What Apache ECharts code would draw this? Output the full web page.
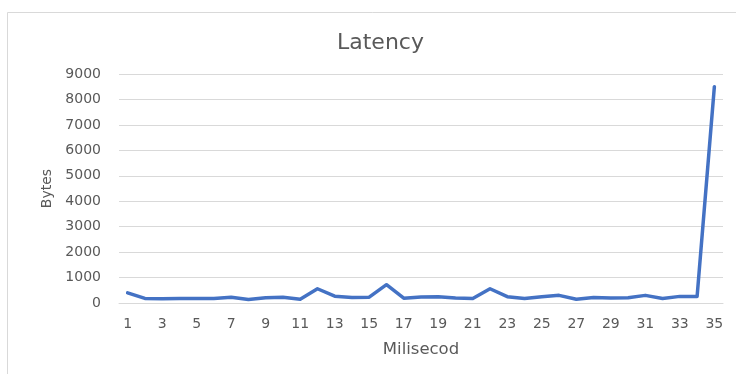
<!DOCTYPE html>
<html>
<head>
<meta charset="utf-8">
<script src="https://cdn.jsdelivr.net/npm/echarts@6/dist/echarts.min.js"></script>
<style>
  html, body { margin: 0; padding: 0; background: #fff; }
  #chart { width: 736px; height: 374px; }
</style>
</head>
<body>
<div id="chart"></div>
<script>
// Sample index (milliseconds) along the x axis
const categories = [
  '1','2','3','4','5','6','7','8','9','10',
  '11','12','13','14','15','16','17','18','19','20',
  '21','22','23','24','25','26','27','28','29','30',
  '31','32','33','34','35'
];
// Latency measured in bytes
const latency = [
  400, 180, 170, 180, 180, 180, 230, 140, 210, 230,
  150, 560, 270, 220, 230, 720, 190, 240, 250, 200,
  180, 560, 250, 180, 250, 300, 150, 220, 200, 210,
  300, 180, 260, 260, 8500
];
const yTicks = { min: 0, max: 9000, interval: 1000 };

const chart = echarts.init(document.getElementById('chart'));
const font = '"DejaVu Sans", "Open Sans", sans-serif';
chart.setOption({
  animation: false,
  backgroundColor: '#ffffff',
  graphic: [{
    type: 'rect',
    left: 5, top: 10,
    shape: { width: 760, height: 400 },
    style: { fill: 'none', stroke: '#d9d9d9', lineWidth: 1 }
  }],
  title: {
    text: 'Latency',
    left: 332,
    top: 27,
    textStyle: { fontFamily: font, fontSize: 22, fontWeight: 'normal', color: '#595959' }
  },
  grid: { left: 119, right: 13, top: 74, bottom: 71 },
  xAxis: {
    type: 'category',
    data: categories,
    boundaryGap: true,
    name: 'Milisecod',
    nameLocation: 'middle',
    nameGap: 38,
    nameTextStyle: { fontFamily: font, fontSize: 16.5, color: '#595959' },
    axisLine: { lineStyle: { color: '#d9d9d9', width: 1 } },
    axisTick: { show: false },
    axisLabel: { interval: 1, margin: 14, fontFamily: font, fontSize: 14, color: '#595959' }
  },
  yAxis: {
    type: 'value',
    min: yTicks.min, max: yTicks.max, interval: yTicks.interval,
    name: 'Bytes',
    nameLocation: 'middle',
    nameGap: 64,
    nameTextStyle: { fontFamily: font, fontSize: 14, color: '#595959' },
    axisLine: { show: false },
    axisTick: { show: false },
    splitLine: { lineStyle: { color: '#d9d9d9', width: 1 } },
    axisLabel: {
      margin: 18, fontFamily: font, fontSize: 14, color: '#595959',
      formatter: (v) => String(v)
    }
  },
  series: [{
    type: 'line',
    data: latency,
    symbol: 'none',
    lineStyle: { color: '#4472c4', width: 3.5, join: 'round', cap: 'round' }
  }]
});
</script>
</body>
</html>
